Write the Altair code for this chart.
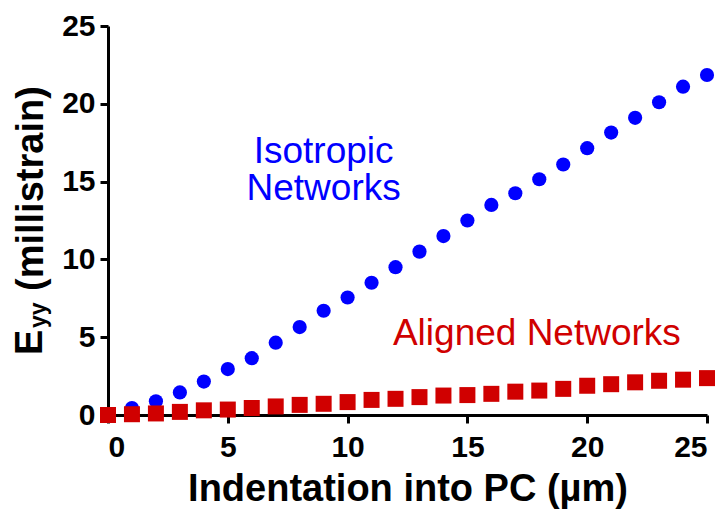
import altair as alt
import pandas as pd

# ---- data ----
indentation = list(range(26))
isotropic = [0, 0.45, 0.88, 1.45, 2.15, 2.95, 3.65, 4.65, 5.65, 6.7, 7.55, 8.5, 9.5,
             10.5, 11.5, 12.5, 13.5, 14.25, 15.15, 16.1, 17.15, 18.15, 19.1, 20.1,
             21.1, 21.85]
aligned = [0, 0.05, 0.1, 0.2, 0.3, 0.35, 0.45, 0.55, 0.65, 0.72, 0.83, 0.97, 1.04,
           1.15, 1.25, 1.28, 1.36, 1.5, 1.57, 1.68, 1.88, 1.98, 2.1, 2.2, 2.27, 2.37]
x_ticks = [0, 5, 10, 15, 20, 25]
y_ticks = [0, 5, 10, 15, 20, 25]
x_title = "Indentation into PC (µm)"
y_title_parts = ["E", "yy", "(millistrain)"]
iso_label = ["Isotropic", "Networks"]
ali_label = "Aligned Networks"

BLUE = "#0000ff"
RED = "#d00000"
FONT = "Liberation Sans"

df_iso = pd.DataFrame({"x": indentation, "y": isotropic})
df_ali = pd.DataFrame({"x": indentation, "y": aligned})

xscale = alt.Scale(domain=[0, 25], nice=False, zero=False)
yscale = alt.Scale(domain=[0, 25], nice=False, zero=False)

common_axis = dict(grid=False, domainWidth=3, domainColor="black", tickWidth=3,
                   tickSize=8, tickColor="black", labelFont=FONT, labelFontSize=30,
                   labelFontWeight="bold", labelColor="black")

xaxis = alt.Axis(values=x_ticks, title=x_title, labelPadding=9,
                 titleFont=FONT, titleFontSize=38, titleFontWeight="bold",
                 titleColor="black", titlePadding=8, **common_axis)
yaxis = alt.Axis(values=y_ticks, title=None, labelPadding=5, **common_axis)

iso_pts = alt.Chart(df_iso).mark_point(
    shape="circle", filled=True, color=BLUE, size=201, opacity=1
).encode(
    x=alt.X("x:Q", scale=xscale, axis=xaxis),
    y=alt.Y("y:Q", scale=yscale, axis=yaxis),
)

ali_pts = alt.Chart(df_ali).mark_point(
    shape="square", filled=True, color=RED, size=256, opacity=1
).encode(
    x=alt.X("x:Q", scale=xscale),
    y=alt.Y("y:Q", scale=yscale),
)

iso_text = alt.Chart(pd.DataFrame({"x": [9.0], "y": [16.2]})).mark_text(
    text=iso_label, font=FONT, fontSize=37, color=BLUE, align="center",
    baseline="alphabetic", lineHeight=37.5
).encode(x=alt.X("x:Q", scale=xscale), y=alt.Y("y:Q", scale=yscale))

ali_text = alt.Chart(pd.DataFrame({"x": [17.9], "y": [4.5]})).mark_text(
    text=ali_label, font=FONT, fontSize=37, color=RED, align="center",
    baseline="alphabetic"
).encode(x=alt.X("x:Q", scale=xscale), y=alt.Y("y:Q", scale=yscale))

# y-axis title built from pieces (subscript "yy"); offsets relative to plot origin
one = pd.DataFrame({"k": [0]})
yt_E = alt.Chart(one).mark_text(
    text=y_title_parts[0], font=FONT, fontSize=38, fontWeight="bold", color="black",
    angle=270, align="left", baseline="alphabetic"
).encode(x=alt.value(-66), y=alt.value(329))
yt_sub = alt.Chart(one).mark_text(
    text=y_title_parts[1], font=FONT, fontSize=23, fontWeight="bold", color="black",
    angle=270, align="left", baseline="alphabetic"
).encode(x=alt.value(-62), y=alt.value(302))
yt_rest = alt.Chart(one).mark_text(
    text=y_title_parts[2], font=FONT, fontSize=38, fontWeight="bold", color="black",
    angle=270, align="left", baseline="alphabetic"
).encode(x=alt.value(-65), y=alt.value(265))

chart = alt.layer(
    iso_pts, ali_pts, iso_text, ali_text, yt_E, yt_sub, yt_rest
).properties(
    width=599, height=389,
    autosize=alt.AutoSizeParams(type="none"),
    padding={"left": 100, "top": 18, "right": 12, "bottom": 104},
).configure_view(stroke=None)

chart.save("out.html", embed_options={"renderer": "svg", "actions": False})
